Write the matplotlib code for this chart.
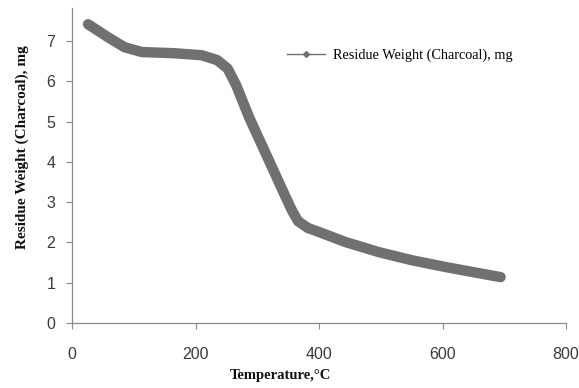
import matplotlib.pyplot as plt
from matplotlib.lines import Line2D

# Residue weight of charcoal vs temperature
temperature = [26, 58, 85, 113, 166, 210, 235, 252, 266, 287, 308, 331, 345, 356, 366, 382,
               400, 443, 497, 550, 605, 658, 694]
residue = [7.42, 7.10, 6.85, 6.73, 6.70, 6.65, 6.53, 6.32, 5.9, 5.1, 4.4, 3.63, 3.16, 2.8, 2.53,
           2.36, 2.26, 2.01, 1.76, 1.56, 1.39, 1.24, 1.14]

x_ticks = [0, 200, 400, 600, 800]
y_ticks = [0, 1, 2, 3, 4, 5, 6, 7]

fig = plt.figure(figsize=(5.79, 3.88), dpi=100)
ax = fig.add_axes([0.1244, 0.1675, 0.8532, 0.8115])

ax.plot(temperature, residue, color='#707070', linewidth=7.5,
        solid_capstyle='round', solid_joinstyle='round')

ax.set_xlim(0, 800)
ax.set_ylim(0, 7.82)
ax.set_xticks(x_ticks)
ax.set_yticks(y_ticks)

for side in ['top', 'right']:
    ax.spines[side].set_visible(False)
for side in ['left', 'bottom']:
    ax.spines[side].set_color('#8a8a8a')
    ax.spines[side].set_linewidth(0.9)

ax.tick_params(axis='both', direction='out', length=4, color='#8a8a8a',
               labelsize=11.5, labelcolor='#3a3a3a')
ax.tick_params(axis='y', pad=8)
ax.tick_params(axis='x', pad=13)
for lab in ax.get_xticklabels() + ax.get_yticklabels():
    lab.set_family('Liberation Sans')

fig.text(0.484, 0.016, 'Temperature,°C', family='Liberation Serif',
         fontweight='bold', fontsize=10.5, ha='center', va='bottom', color='#111111')
fig.text(0.038, 0.62, 'Residue Weight (Charcoal), mg', family='Liberation Serif',
         fontweight='bold', fontsize=11, rotation=90, ha='center', va='center',
         color='#111111')

handle = Line2D([], [], color='#707070', linewidth=1, marker='D', markersize=3)
ax.legend([handle], ['Residue Weight (Charcoal), mg'], loc='upper left',
          bbox_to_anchor=(0.41, 0.912), frameon=False, handlelength=2.6,
          handletextpad=0.6, prop={'family': 'Liberation Serif', 'size': 10.3})

fig.savefig('out.png', dpi=100)
